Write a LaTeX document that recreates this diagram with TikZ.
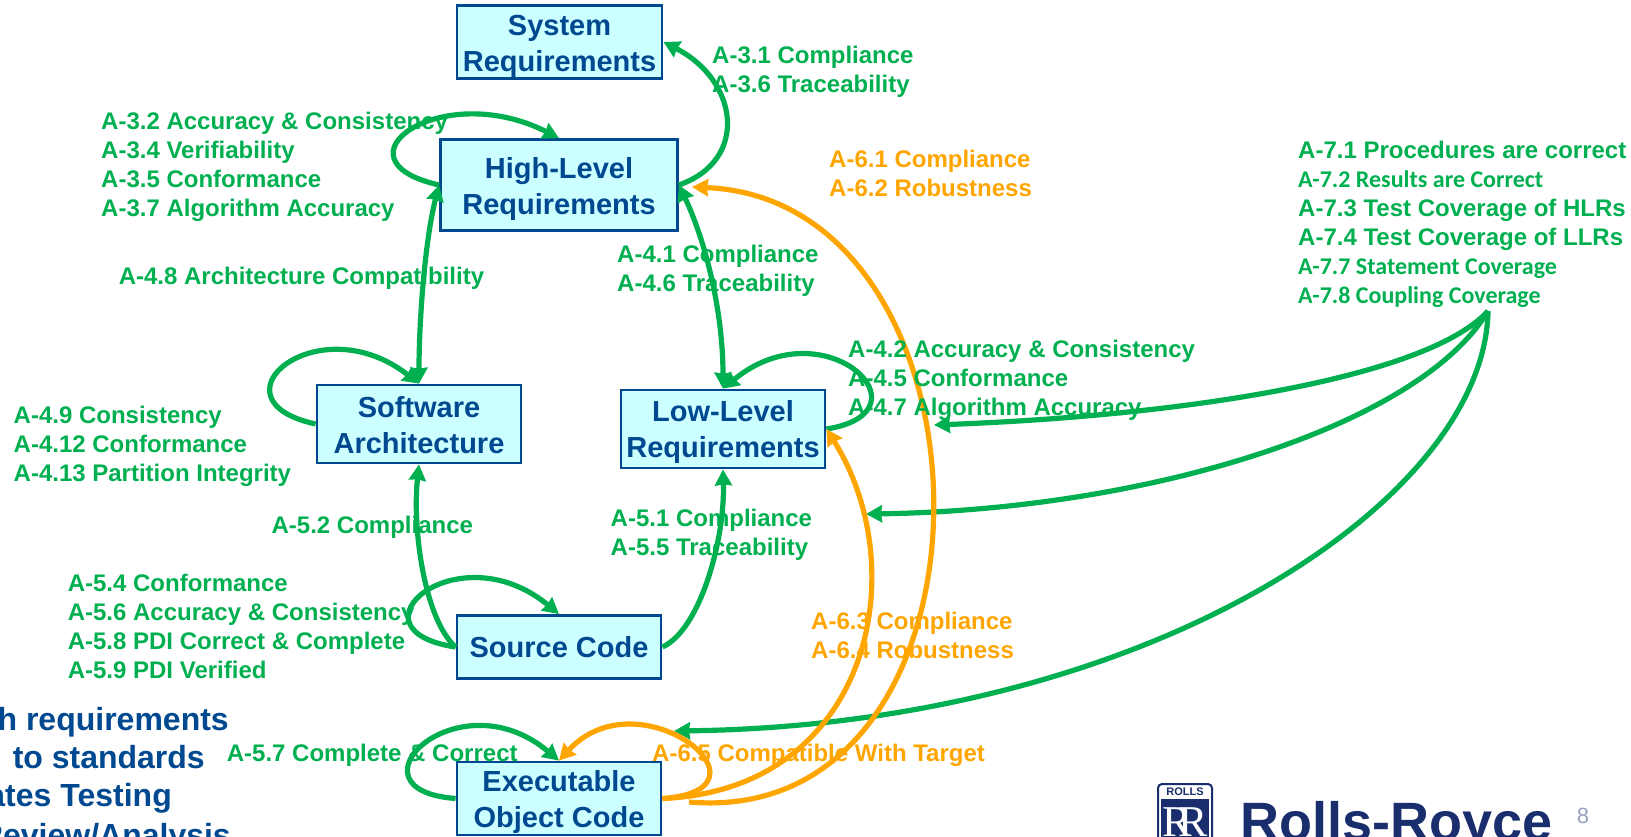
\documentclass[tikz,border=0pt]{standalone}
\usepackage{fontspec}
\setmainfont{Liberation Sans}
\newfontfamily\calfont{Carlito}
\newfontfamily\badgefont{Liberation Serif}
\usetikzlibrary{arrows.meta}
\definecolor{boxblue}{HTML}{004990}
\definecolor{boxfill}{HTML}{CCFFFF}
\definecolor{objgreen}{HTML}{00B050}
\definecolor{objorange}{HTML}{FFA500}
\definecolor{logoblue}{HTML}{1A2E6E}
\newcommand{\boxdrop}[1]{\rule{0pt}{#1}}
\tikzset{
  block/.style={draw=boxblue,fill=boxfill,line width=2.8pt,inner sep=0pt,align=center,text=boxblue,
    font=\fontsize{29}{36}\selectfont\bfseries},
  greenlbl/.style={anchor=west,inner sep=0pt,align=left,text=objgreen,font=\fontsize{24}{29}\selectfont\bfseries},
  orangelbl/.style={greenlbl,text=objorange},
  greenarc/.style={draw=objgreen,line width=5.2pt,-{Stealth[length=16pt,width=17pt,inset=1pt]}},
  greenboth/.style={draw=objgreen,line width=5.2pt,{Stealth[length=16pt,width=17pt,inset=1pt]}-{Stealth[length=16pt,width=17pt,inset=1pt]}},
  orangearc/.style={draw=objorange,line width=5.2pt,-{Stealth[length=16pt,width=17pt,inset=1pt]}},
}
\begin{document}
\begin{tikzpicture}[x=1pt,y=-1pt]
\useasboundingbox (0,0) rectangle (1631,836);
\node [block,minimum width=205pt,minimum height=73pt] (sysreq) at (559.5,42) {\boxdrop{29.5pt}System\\Requirements};
\node [block,minimum width=237pt,minimum height=91pt] (hlr) at (559,185) {\boxdrop{29.5pt}High-Level\\Requirements};
\node [block,minimum width=204pt,minimum height=78pt] (arch) at (419,424) {\boxdrop{24pt}Software\\Architecture};
\node [block,minimum width=204pt,minimum height=78pt] (llr) at (723,429) {\boxdrop{27.5pt}Low-Level\\Requirements};
\node [block,minimum width=204pt,minimum height=63pt] (src) at (559,647) {Source Code};
\node [block,minimum width=204pt,minimum height=73pt] (eoc) at (559,798.5) {\boxdrop{27.5pt}Executable\\Object Code};
\coordinate (a7tail) at (1488,311);
\coordinate (llrtip) at (934,425);
\coordinate (midtip) at (866,514);
\coordinate (eoctip) at (674,731);
\coordinate (hlrtip) at (692,187);
\coordinate (eocout) at (689,802);
% green arcs
\draw [greenarc] (hlr.east) .. controls (750,160) and (738,80) .. (sysreq.east);
\draw [greenarc] (hlr.west) .. controls (328,160) and (440,78) .. (hlr.north);
\draw [greenboth] (arch.north) .. controls (419,320) and (425,240) .. (hlr.west);
\draw [greenarc] (arch.west) .. controls (205,400) and (317,304) .. (arch.north);
\draw [greenarc] (src.west) .. controls (425,620) and (412,530) .. (arch.south);
\draw [greenarc] (src.west) .. controls (342,630) and (457,530) .. (src.north);
\draw [greenarc] (src.east) .. controls (700,630) and (725,540) .. (llr.south);
\draw [greenboth] (llr.north) .. controls (723,310) and (705,240) .. (hlr.east);
\draw [greenarc] (llr.east) .. controls (935,412) and (825,305) .. (llr.north);
\draw [greenarc] (a7tail) .. controls (1430,375) and (1200,415) .. (llrtip);
\draw [greenarc] (a7tail) .. controls (1420,425) and (1150,510) .. (midtip);
\draw [greenarc] (a7tail) .. controls (1485,500) and (1150,725) .. (eoctip);
\draw [greenarc] (eoc.west) .. controls (340,790) and (457,675) .. (eoc.north);
% orange arcs
\draw [orangearc] (eocout) .. controls (1015,830) and (1010,200) .. (hlrtip);
\draw [orangearc] (eoc.east) .. controls (870,790) and (915,570) .. (llr.east);
\draw [orangearc] (eoc.east) .. controls (785,790) and (640,673) .. (eoc.north);
% labels
\node [greenlbl] (lbla3a) at (712,71.7) {A-3.1 Compliance\\A-3.6 Traceability};
\node [greenlbl] (lbla3b) at (101,166.6) {A-3.2 Accuracy \& Consistency\\A-3.4 Verifiability\\A-3.5 Conformance\\A-3.7 Algorithm Accuracy};
\node [greenlbl] (lbla48) at (118.6,278.6) {A-4.8 Architecture Compatibility};
\node [greenlbl] (lbla4a) at (617,271) {A-4.1 Compliance\\A-4.6 Traceability};
\node [greenlbl] (lbla4b) at (848,380.6) {A-4.2 Accuracy \& Consistency\\A-4.5 Conformance\\A-4.7 Algorithm Accuracy};
\node [greenlbl] (lbla4c) at (13.5,446) {A-4.9 Consistency\\A-4.12 Conformance\\A-4.13 Partition Integrity};
\node [greenlbl] (lbla52) at (271.4,527) {A-5.2 Compliance};
\node [greenlbl] (lbla5a) at (610.5,534.5) {A-5.1 Compliance\\A-5.5 Traceability};
\node [greenlbl] (lbla5b) at (67.6,626.1) {A-5.4 Conformance\\A-5.6 Accuracy \& Consistency\\A-5.8 PDI Correct \& Complete\\A-5.9 PDI Verified};
\node [greenlbl] (lbla57) at (226.7,755) {A-5.7 Complete \& Correct};
\node [orangelbl] (lbla6a) at (829,173.7) {A-6.1 Compliance\\A-6.2 Robustness};
\node [orangelbl] (lbla6b) at (811,635.4) {A-6.3 Compliance\\A-6.4 Robustness};
\node [orangelbl] (lbla65) at (652,755) {A-6.5 Compatible With Target};
\node [greenlbl] (lbla7) at (1298,224) {A-7.1 Procedures are correct\\{\calfont A-7.2 Results are Correct}\\A-7.3 Test Coverage of HLRs\\A-7.4 Test Coverage of LLRs\\{\calfont A-7.7 Statement Coverage}\\{\calfont A-7.8 Coupling Coverage}};
% cut off text at lower left
\foreach \Name/\Point/\Text in {cuta/{(229,722)}/h requirements, cutb/{(205,757)}/to standards, cutc/{(172,798)}/ates Testing, cutd/{(231,838)}/Review\slash Analysis}
\node [anchor=east,inner sep=0pt,text=boxblue,font=\fontsize{32}{36}\selectfont\bfseries] (\Name) at \Point {\Text};
% logo
\draw [draw=logoblue,fill=white,line width=2pt,rounded corners=4pt] (1158,784) rectangle (1212,850);
\fill [logoblue] (1161,799) rectangle (1209,850);
\node [inner sep=0pt,text=logoblue,font=\fontsize{11}{11}\selectfont\bfseries] (rollstag) at (1185,791.5) {ROLLS};
\node [inner sep=0pt,text=white,font=\badgefont\fontsize{44}{44}\selectfont] (rrtag) at (1185,822) {R\kern-14pt R};
\node [anchor=west,inner sep=0pt,text=logoblue,font=\fontsize{54}{54}\selectfont\bfseries] (rrname) at (1240,827) {Rolls-Royce};
\node [inner sep=0pt,text=logoblue!45,font=\fontsize{22}{22}\selectfont] (pagenum) at (1583,816) {8};
\end{tikzpicture}
\end{document}
